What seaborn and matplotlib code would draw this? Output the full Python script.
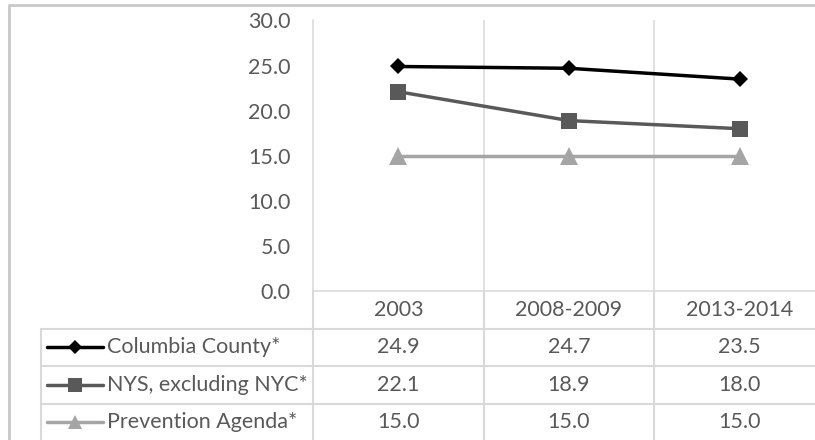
import numpy as np
import pandas as pd
import matplotlib.pyplot as plt
import seaborn as sns
from matplotlib.ticker import FormatStrFormatter

# ==========================================================
# DATA
# ==========================================================

periods = ["2003", "2008-2009", "2013-2014"]
series_names = ["Columbia County*", "NYS, excluding NYC*", "Prevention Agenda*"]

columbia = [24.9, 24.7, 23.5]
nys_excl_nyc = [22.1, 18.9, 18.0]
prevention_agenda = [15.0, 15.0, 15.0]

values = [columbia, nys_excl_nyc, prevention_agenda]

colors = ["#000000", "#595959", "#A5A5A5"]
markers = ["D", "s", "^"]
marker_sizes = [8.6, 12, 12.5]

y_ticks = [0, 5, 10, 15, 20, 25, 30]

rows = []
for name, vals in zip(series_names, values):
    for i, (p, v) in enumerate(zip(periods, vals)):
        rows.append({"series": name, "period": p, "pos": i, "value": v})
df = pd.DataFrame(rows)

# ==========================================================
# STYLE
# ==========================================================

sns.set_style("white")
plt.rcParams["font.family"] = ["Lato", "DejaVu Sans"]

TEXT = "#595959"
GRID = "#D9D9D9"
FS = 15.5

W, H = 815, 440
fig = plt.figure(figsize=(W / 100, H / 100), dpi=100)

# chart border: top and left edges (right/bottom fall outside the image)
fig.add_artist(plt.Line2D([8.5 / W, 8.5 / W, 1.0], [0.0, 1 - 5.5 / H, 1 - 5.5 / H],
                          transform=fig.transFigure, color="#C8C8C8",
                          linewidth=2.0, solid_capstyle="butt"))

# plot area in pixels
PL, PR, PT, PB = 313, 825, 20.5, 291
ax = fig.add_axes([PL / W, 1 - PB / H, (PR - PL) / W, (PB - PT) / H])

# ==========================================================
# LINES
# ==========================================================

for name, color, mk, ms in zip(series_names, colors, markers, marker_sizes):
    sub = df[df["series"] == name]
    sns.lineplot(data=sub, x="pos", y="value", color=color, marker=mk,
                 markersize=ms, markeredgewidth=0, linewidth=2.5,
                 legend=False, ax=ax, zorder=3)

n = len(periods)
ax.set_xlim(-0.5, n - 0.5)
ax.set_ylim(0, 30)
ax.set_xticks([])
ax.set_xticks(np.arange(n - 1) + 0.5, minor=True)
ax.grid(True, which="minor", axis="x", color=GRID, linewidth=1.1)
ax.tick_params(axis="x", which="both", length=0)
ax.set_yticks(y_ticks)
ax.yaxis.set_major_formatter(FormatStrFormatter("%.1f"))
ax.tick_params(axis="y", length=0, pad=16, labelsize=FS, labelcolor=TEXT)
ax.set_xlabel("")
ax.set_ylabel("")
for s in ["top", "right"]:
    ax.spines[s].set_visible(False)
for s in ["left", "bottom"]:
    ax.spines[s].set_color(GRID)
    ax.spines[s].set_linewidth(1.1)

# ==========================================================
# DATA TABLE
# ==========================================================

px_per_unit = (PR - PL) / n


def px_to_x(px):
    return -0.5 + (px - PL) / px_per_unit


TL = 41          # left edge of label column
ROW_H = 37.5
n_rows = len(series_names) + 1
tab_bottom = PB + n_rows * ROW_H
tab = fig.add_axes([TL / W, 1 - tab_bottom / H, (PR - TL) / W, n_rows * ROW_H / H])
tab.set_xlim(px_to_x(TL), n - 0.5)
tab.set_ylim(n_rows, 0)
tab.axis("off")

lw_tab = 1.5
# horizontal rules
for r in range(1, n_rows):
    tab.plot([px_to_x(TL), n - 0.5], [r, r], color=GRID, lw=lw_tab, clip_on=False)
# vertical rules
for c in range(n):
    tab.plot([c - 0.5, c - 0.5], [0, n_rows], color=GRID, lw=lw_tab, clip_on=False)
tab.plot([px_to_x(TL), px_to_x(TL)], [1, n_rows], color=GRID, lw=lw_tab, clip_on=False)

# header
for i, p in enumerate(periods):
    tab.text(i, 0.5, p, ha="center", va="center", fontsize=FS, color=TEXT)

# rows
key_l, key_r, label_x = px_to_x(47), px_to_x(103), px_to_x(107)
for r, (name, vals, color, mk, ms) in enumerate(
        zip(series_names, values, colors, markers, marker_sizes)):
    yc = r + 1.5
    tab.plot([key_l, key_r], [yc, yc], color=color, lw=2.5, clip_on=False)
    tab.plot([(key_l + key_r) / 2], [yc], color=color, marker=mk,
             markersize=ms * 0.85, markeredgewidth=0, clip_on=False)
    tab.text(label_x, yc, name, ha="left", va="center", fontsize=FS, color=TEXT)
    for i, v in enumerate(vals):
        tab.text(i, yc, f"{v:.1f}", ha="center", va="center", fontsize=FS, color=TEXT)

plt.savefig("out.png", dpi=100)
plt.close()
